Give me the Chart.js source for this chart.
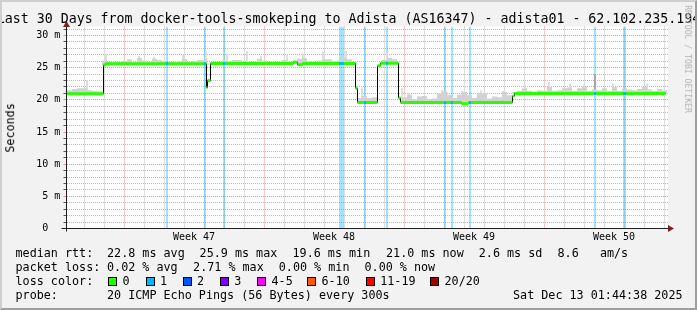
<!DOCTYPE html>
<html><head><meta charset="utf-8">
<script src="https://cdn.jsdelivr.net/npm/chart.js@4/dist/chart.umd.min.js"></script>
<style>
html,body{margin:0;padding:0;background:#f2f2f2;}
#wrap{position:relative;width:697px;height:310px;overflow:hidden;background:#f2f2f2;}
canvas{position:absolute;left:0;top:0;}
.t{position:absolute;font-family:'DejaVu Sans Mono',monospace;white-space:pre;line-height:1;color:#000;}
.box{position:absolute;width:9px;height:9px;box-sizing:border-box;border:1px solid #000;}
#frame{position:absolute;left:0;top:0;width:697px;height:310px;box-sizing:border-box;border-top:2px solid #cfcfcf;border-left:2px solid #cfcfcf;border-right:2px solid #9e9e9e;border-bottom:2px solid #9e9e9e;pointer-events:none;}
</style></head>
<body><div id="wrap">
<canvas id="c" width="697" height="310"></canvas>
<div id="frame"></div>
</div>
<script>
// ---------------- data (days relative to Sun 16 Nov 2025 00:00) ----------------
const titleText = 'Last 30 Days from docker-tools-smokeping to Adista (AS16347) - adista01 - 62.102.235.194';
const yUnitLabel = 'Seconds';
const watermark = 'RRDTOOL / TOBI OETIKER';
const xMin = -2.875, xMax = 27.2;
const yMin = 0, yMax = 31.4;
const weekStartDays = [0, 7, 14, 21];
const weekLabelDays = [3.5, 10.5, 17.5, 24.5];
const weekLabels = ['Week 47', 'Week 48', 'Week 49', 'Week 50'];
const yMajorTicks = [0, 5, 10, 15, 20, 25, 30];
const yMajorLabels = ['0  ', '5 m', '10 m', '15 m', '20 m', '25 m', '30 m'];

// median rtt (ms), step function: value medV[i] from medT[i] until next
const medT = [-2.93, -1.025, -0.925, 4.125, 4.175, 4.325, 8.475, 8.675, 8.925, 11.575, 11.675,
              12.675, 12.825, 13.725, 13.825, 16.875, 17.225, 19.425, 19.525];
const medV = [20.95, 25.4, 25.6, 21.9, 23.0, 25.65, 25.85, 25.45, 25.65, 21.8, 19.6,
              25.3, 25.7, 20.3, 19.6, 19.4, 19.6, 20.6, 21.0];
const medEnd = 27.0727;

// packet loss periods
const lossStart = [2.1, 4.0, 4.95, 10.75, 12.0, 13.1, 16.0, 16.35, 17.25, 23.5, 24.95];
const lossEnd   = [2.2, 4.1, 5.05, 11.0, 12.1, 13.2, 16.1, 16.45, 17.35, 23.6, 25.1];
const lossCount = [1, 1, 1, 1, 1, 1, 1, 1, 1, 1, 1];

// smoke (upper ping spread), 0.25-day bins starting at smokeStart
const smokeStart = -2.85, smokeStep = 0.25;
const smokeTop = [
 21.5, 21.7, 21.8, 21.8, 21.5, 21.4, 21.3, 26.1, 25.9, 25.8,
 25.9, 26.0, 26.3, 25.8, 26.5, 26.1, 25.8, 26.4, 26.2, 26.0,
 25.9, 25.8, 26.0, 26.3, 25.8, 26.0, 26.2, 26.2, null, 25.9,
 25.8, 26.1, 26.0, 26.2, 26.2, 25.8, 25.8, 25.9, 26.4, 26.1,
 25.8, 25.9, 25.8, 26.2, 25.9, 26.1, 26.4, 26.5, 26.0, 25.8,
 26.1, 26.3, 26.3, 26.0, 26.1, 26.5, 26.3, 25.8, 20.3, 20.6,
 20.3, 20.4, null, 26.2, 26.5, 26.3, null, 20.4, 20.8, 20.1,
 20.5, 20.6, 20.1, 20.2, 21.0, 21.3, 20.8, 20.3, 20.8, 21.2,
 20.7, 20.3, 21.1, 21.0, 20.2, 20.5, 20.4, 21.2, 20.7, 21.2,
 21.4, 21.8, 21.4, 21.3, 21.5, 21.4, 22.0, 21.4, 21.5, 21.8,
 21.9, 21.4, 21.8, 22.1, 21.4, 21.6, 21.5, 21.8, 21.4, 22.0,
 21.4, 21.8, 21.6, 21.5, 21.7, 22.0, 21.6, 21.4, 21.7, 21.5];
// narrow smoke spikes
const spikeT   = [-1.85, -0.9, 0.75, 1.5, 2.95, 4.1, 5.15, 6.15, 6.85, 8.15, 8.95, 9.95, 11.1, 11.9,
                  13.15, 13.9, 14.25, 15.9, 16.9, 17.85, 18.95, 20.05, 21.25, 22.3, 23.0, 24.45, 26.15];
const spikeTop = [23.1, 27.2, 26.8, 26.7, 27.0, 27.6, 27.2, 27.6, 26.8, 27.0, 27.2, 27.4, 27.6, 21.9,
                  27.2, 21.8, 21.1, 21.5, 21.4, 21.5, 21.4, 22.45, 22.8, 22.45, 22.4, 22.55, 22.55];
const darkSpikeT = [23.55];
const darkSpikeTop = [24.0];

// legend
const lossLabels = ['0', '1', '2', '3', '4-5', '6-10', '11-19', '20/20'];
const lossColors = ['#26ff00', '#00b8ff', '#0059ff', '#7e00ff', '#ff00ff', '#ff5a00', '#ff0000', '#a00000'];
const lossBgColors = ['rgba(38,255,0,0.38)', 'rgba(0,184,255,0.38)', 'rgba(0,89,255,0.38)', 'rgba(126,0,255,0.38)',
                      'rgba(255,0,255,0.38)', 'rgba(255,90,0,0.38)', 'rgba(255,0,0,0.38)', 'rgba(160,0,0,0.38)'];
const rttStats = ['22.8 ms avg', '25.9 ms max', '19.6 ms min', '21.0 ms now', '2.6 ms sd', '8.6   am/s'];
const lossStats = ['0.02 % avg', '2.71 % max', '0.00 % min', '0.00 % now'];
const probeText = '20 ICMP Echo Pings (56 Bytes) every 300s';
const dateText = 'Sat Dec 13 01:44:38 2025';

// ---------------- layout (positions only) ----------------
const L = {
  legendFont: 11.74, rowTops: [247.5, 261.7, 275.6, 289.5], labelX: 15.5,
  rttX: [107.0, 199.6, 292.5, 386.0, 478.8, 557.5],
  lossX: [107.0, 193.1, 278.8, 364.5],
  boxX: [108.3, 145.7, 182.7, 220.0, 257.3, 307.3, 366.0, 430.3], boxTop: 277.3, boxLabelDx: 14.2,
  probeX: 107.0, dateX: 513.0
};

// ---------------- helpers ----------------
function medianAt(t) {
  let v = medV[0];
  for (let i = 0; i < medT.length; i++) if (medT[i] <= t) v = medV[i];
  return v;
}
const wrap = document.getElementById('wrap');
function addText(str, left, top, size, style) {
  const d = document.createElement('div');
  d.className = 't';
  d.textContent = str;
  d.style.left = left + 'px';
  d.style.top = top + 'px';
  d.style.fontSize = size + 'px';
  if (style) Object.assign(d.style, style);
  wrap.insertBefore(d, document.getElementById('frame'));
  return d;
}

// ---------------- datasets ----------------
const stepData = medT.map((t, i) => ({x: t, y: medV[i]}));
stepData.push({x: medEnd, y: medV[medV.length - 1]});

const greenData = [];
medT.forEach((t, i) => {
  const next = i + 1 < medT.length ? medT[i + 1] : medEnd;
  greenData.push({x: t, y: medV[i]}, {x: next, y: medV[i]}, {x: next, y: null});
});

const smokeData = [];
smokeTop.forEach((top, k) => {
  if (top === null) return;
  const t = smokeStart + smokeStep * (k + 0.5);
  const lo = medianAt(t);
  if (top > lo) smokeData.push({x: t, y: [lo, top]});
});
const spikeData = spikeT.map((t, i) => ({x: t, y: [medianAt(t), spikeTop[i]]}));
const darkSpikeData = darkSpikeT.map((t, i) => ({x: t, y: [medianAt(t), darkSpikeTop[i]]}));

const lossDatasets = [];
const lossMedDatasets = [];
[...new Set(lossCount)].forEach(c => {
  const band = [], med = [];
  lossStart.forEach((a, j) => {
    if (lossCount[j] !== c) return;
    const b = lossEnd[j];
    const v = medianAt((a + b) / 2);
    band.push({x: a, y: yMax}, {x: b, y: yMax}, {x: b, y: null});
    med.push({x: a, y: v}, {x: b, y: v}, {x: b, y: null});
  });
  lossDatasets.push({type: 'line', data: band, borderWidth: 0, pointRadius: 0, fill: 'start',
    backgroundColor: lossBgColors[c], borderColor: 'rgba(0,0,0,0)', spanGaps: false, order: 7});
  lossMedDatasets.push({type: 'line', data: med, borderWidth: 3, pointRadius: 0, fill: false,
    borderColor: lossColors[c], borderCapStyle: 'butt', spanGaps: false, order: 1});
});

const xTickValues = [];
for (let d = Math.ceil(xMin); d <= Math.floor(xMax); d++) xTickValues.push(d);
weekLabelDays.forEach(d => xTickValues.push(d));
xTickValues.sort((a, b) => a - b);
const yTickValues = [];
for (let v = yMin; v <= Math.floor(yMax); v++) yTickValues.push(v);

const GRID = 'rgba(143,143,143,0.6)';
const MGRID = 'rgba(222,79,79,0.6)';
const FONT = {family: "'DejaVu Sans Mono', monospace", size: 10};

const deco = {
  id: 'deco',
  beforeDraw(chart) {
    const {ctx, chartArea: a} = chart;
    ctx.save();
    ctx.fillStyle = '#ffffff';
    ctx.fillRect(a.left, a.top, a.right - a.left, a.bottom - a.top);
    ctx.restore();
  },
  afterDraw(chart) {
    const {ctx, chartArea: a} = chart;
    const ax = Math.round(a.left - 0.5) + 0.5;
    const ay = Math.round(a.bottom - 0.5) + 0.5;
    ctx.save();
    ctx.strokeStyle = '#1f1f1f';
    ctx.lineWidth = 1;
    ctx.beginPath();
    ctx.moveTo(ax - 5, ay); ctx.lineTo(a.right + 1, ay);
    ctx.moveTo(ax, ay + 3); ctx.lineTo(ax, a.top - 1);
    ctx.stroke();
    ctx.fillStyle = '#7f1f1f';
    ctx.beginPath();
    ctx.moveTo(ax, a.top - 5.5); ctx.lineTo(ax - 3.5, a.top + 0.5); ctx.lineTo(ax + 3.5, a.top + 0.5); ctx.closePath();
    ctx.fill();
    ctx.beginPath();
    ctx.moveTo(a.right + 6, ay); ctx.lineTo(a.right, ay - 3.5); ctx.lineTo(a.right, ay + 3.5); ctx.closePath();
    ctx.fill();
    ctx.restore();
  }
};

new Chart(document.getElementById('c'), {
  type: 'line',
  data: {
    datasets: [
      ...lossDatasets,
      {type: 'bar', data: spikeData, backgroundColor: '#dedede', barThickness: 2, grouped: false,
       borderWidth: 0, inflateAmount: 0, order: 6},
      {type: 'bar', data: darkSpikeData, backgroundColor: '#a6a6a6', barThickness: 2, grouped: false,
       borderWidth: 0, inflateAmount: 0, order: 5},
      {type: 'bar', data: smokeData, backgroundColor: '#d2d2d2', barThickness: 5, grouped: false,
       borderWidth: 0, inflateAmount: 0, order: 4},
      {type: 'line', data: stepData, stepped: true, borderColor: '#000000', borderWidth: 1,
       pointRadius: 0, fill: false, order: 3},
      {type: 'line', data: greenData, borderColor: lossColors[0], borderWidth: 3, borderCapStyle: 'butt',
       pointRadius: 0, fill: false, spanGaps: false, order: 2},
      ...lossMedDatasets
    ]
  },
  options: {
    responsive: false, animation: false, devicePixelRatio: 1, events: [],
    layout: {padding: {left: 0, right: 29, top: 26.5, bottom: 0}},
    plugins: {legend: {display: false}, tooltip: {enabled: false}, title: {display: false}},
    scales: {
      x: {
        type: 'linear', min: xMin, max: xMax, offset: false, bounds: 'data',
        afterBuildTicks: s => { s.ticks = xTickValues.map(v => ({value: v})); },
        afterFit: s => { s.height = 81.5; },
        ticks: {
          autoSkip: false, maxRotation: 0, minRotation: 0, padding: 3, font: FONT, color: '#000',
          callback: v => { const i = weekLabelDays.indexOf(v); return i >= 0 ? weekLabels[i] : ''; }
        },
        grid: {
          offset: false, drawTicks: false, lineWidth: 1,
          color: c => weekLabelDays.includes(c.tick.value) ? 'rgba(0,0,0,0)' :
                      (weekStartDays.includes(c.tick.value) ? MGRID : GRID)
        },
        border: {display: true, color: '#1f1f1f', width: 1, dash: [1, 1]}
      },
      y: {
        type: 'linear', min: yMin, max: yMax, bounds: 'data',
        afterBuildTicks: s => { s.ticks = yTickValues.map(v => ({value: v})); },
        afterFit: s => { s.width = 66.5; },
        ticks: {
          autoSkip: false, padding: 3.2, font: FONT, color: '#000',
          callback: v => { const i = yMajorTicks.indexOf(Math.round(v)); return i >= 0 ? yMajorLabels[i] : ''; }
        },
        grid: {
          drawTicks: true, tickLength: 3, lineWidth: 1,
          color: c => yMajorTicks.includes(Math.round(c.tick.value)) ? MGRID : GRID,
          tickColor: c => yMajorTicks.includes(Math.round(c.tick.value)) ? MGRID : '#555555'
        },
        border: {display: true, color: '#1f1f1f', width: 1, dash: [1, 1]}
      }
    }
  },
  plugins: [deco]
});

// ---------------- texts ----------------
addText(titleText, -100, 12.06, 13.29, {width: '897px', textAlign: 'center'});
addText(yUnitLabel, 10.94 - 30, 127.5 - 5.87, L.legendFont,
        {width: '60px', textAlign: 'center', transform: 'rotate(-90deg)', transformOrigin: '50% 50%'});
addText(watermark, 687.8 - 60, 59 - 4.07, 8.14,
        {width: '120px', textAlign: 'center', transform: 'rotate(90deg)', transformOrigin: '50% 50%', color: '#b3b3b3'});

const F = L.legendFont, R = L.rowTops;
addText('median rtt:', L.labelX, R[0], F);
rttStats.forEach((s, i) => addText(s, L.rttX[i], R[0], F));
addText('packet loss:', L.labelX, R[1], F);
lossStats.forEach((s, i) => addText(s, L.lossX[i], R[1], F));
addText('loss color:', L.labelX, R[2], F);
lossLabels.forEach((s, i) => {
  const b = document.createElement('div');
  b.className = 'box';
  b.style.left = L.boxX[i] + 'px';
  b.style.top = L.boxTop + 'px';
  b.style.background = lossColors[i];
  wrap.insertBefore(b, document.getElementById('frame'));
  addText(s, L.boxX[i] + L.boxLabelDx, R[2], F);
});
addText('probe:', L.labelX, R[3], F);
addText(probeText, L.probeX, R[3], F);
addText(dateText, L.dateX, R[3], F);
</script>
</body></html>
